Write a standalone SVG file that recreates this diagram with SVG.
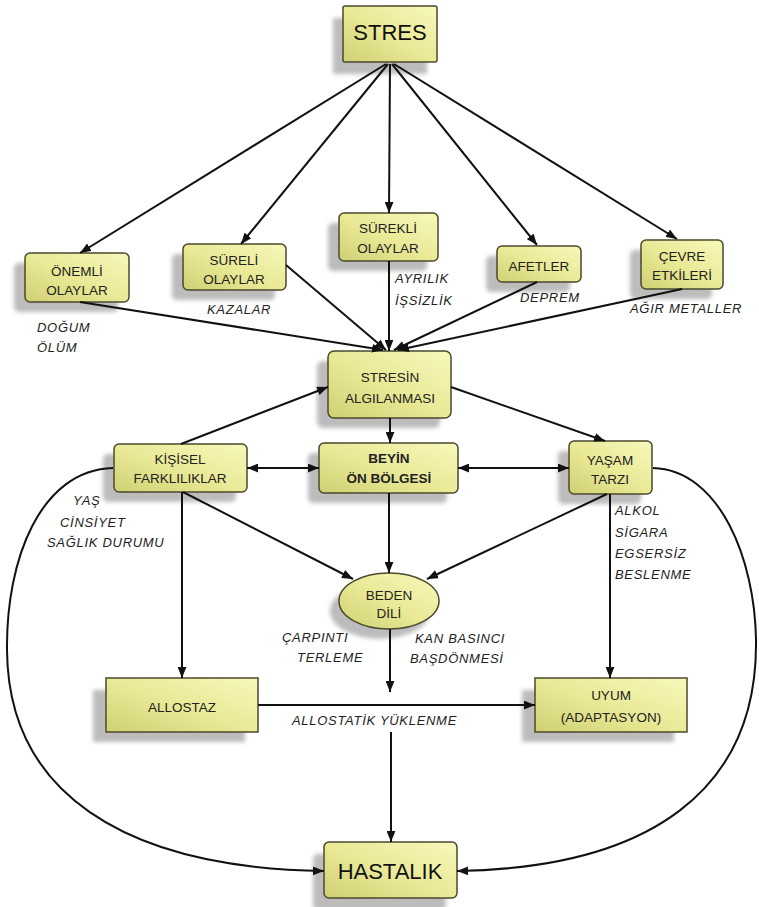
<svg xmlns="http://www.w3.org/2000/svg" width="759" height="907" viewBox="0 0 759 907">
<defs>
<linearGradient id="g" x1="1" y1="0" x2="0" y2="1">
<stop offset="0" stop-color="#f8f8bc"/>
<stop offset="0.55" stop-color="#e8e894"/>
<stop offset="1" stop-color="#cfcf74"/>
</linearGradient>
<filter id="blur" x="-20%" y="-20%" width="140%" height="140%"><feGaussianBlur stdDeviation="2"/></filter>
<marker id="ah" viewBox="0 0 10 8" refX="10" refY="4" markerWidth="11" markerHeight="9" markerUnits="userSpaceOnUse" orient="auto-start-reverse">
<path d="M0,0 L10,4 L0,8 z" fill="#111"/>
</marker>
</defs>
<style>
.box{fill:url(#g);stroke:#4a4a2c;stroke-width:1.5}
.sh{fill:#bcbcbc;filter:url(#blur)}
.t{font-family:"Liberation Sans",Arial,sans-serif;font-size:13.5px;fill:#222;text-anchor:middle}
.b{font-weight:bold}
.big{font-size:22px;fill:#111}
.lab{font-family:"Liberation Sans",Arial,sans-serif;font-size:13px;font-style:italic;fill:#222;letter-spacing:0.7px}
.c{fill:none;stroke:#111;stroke-width:2}
.a{marker-end:url(#ah)}
.d{marker-start:url(#ah);marker-end:url(#ah)}
</style>
<rect width="759" height="907" fill="#fff"/>

<g id="stres">
<rect class="sh" x="333" y="18" width="94" height="56"/>
<rect class="box" x="343" y="6" width="94" height="56" rx="2"/>
<text class="t big" x="390" y="40">STRES</text>
</g>
<g id="onemli">
<rect class="sh" x="14" y="263" width="104" height="49" rx="5"/>
<rect class="box" x="25" y="253" width="104" height="49" rx="5"/>
<text class="t" x="77" y="276">ÖNEMLİ</text>
<text class="t" x="77" y="295">OLAYLAR</text>
</g>
<g id="sureli">
<rect class="sh" x="172" y="254" width="103" height="46" rx="5"/>
<rect class="box" x="183" y="244" width="103" height="46" rx="5"/>
<text class="t" x="234" y="265">SÜRELİ</text>
<text class="t" x="234" y="284">OLAYLAR</text>
</g>
<g id="surekli">
<rect class="sh" x="328" y="223" width="99" height="48" rx="5"/>
<rect class="box" x="339" y="213" width="99" height="48" rx="5"/>
<text class="t" x="388" y="233">SÜREKLİ</text>
<text class="t" x="388" y="253">OLAYLAR</text>
</g>
<g id="afetler">
<rect class="sh" x="486" y="256" width="84" height="36" rx="5"/>
<rect class="box" x="497" y="246" width="84" height="36" rx="5"/>
<text class="t" x="539" y="271">AFETLER</text>
</g>
<g id="cevre">
<rect class="sh" x="630" y="250" width="82" height="49" rx="5"/>
<rect class="box" x="641" y="240" width="82" height="49" rx="5"/>
<text class="t" x="682" y="261">ÇEVRE</text>
<text class="t" x="682" y="280">ETKİLERİ</text>
</g>
<g id="stresin">
<rect class="sh" x="317" y="361" width="123" height="67" rx="6"/>
<rect class="box" x="328" y="351" width="123" height="67" rx="6"/>
<text class="t" x="390" y="382">STRESİN</text>
<text class="t" x="390" y="403">ALGILANMASI</text>
</g>
<g id="kisisel">
<rect class="sh" x="103" y="454" width="133" height="48" rx="5"/>
<rect class="box" x="114" y="444" width="133" height="48" rx="5"/>
<text class="t" x="180" y="464">KİŞİSEL</text>
<text class="t" x="180" y="483">FARKLILIKLAR</text>
</g>
<g id="beyin">
<rect class="sh" x="308" y="453" width="139" height="50" rx="5"/>
<rect class="box" x="319" y="443" width="139" height="50" rx="5"/>
<text class="t b" x="389" y="463">BEYİN</text>
<text class="t b" x="389" y="483">ÖN BÖLGESİ</text>
</g>
<g id="yasam">
<rect class="sh" x="558" y="451" width="83" height="53" rx="5"/>
<rect class="box" x="569" y="441" width="83" height="53" rx="5"/>
<text class="t" x="610" y="465">YAŞAM</text>
<text class="t" x="610" y="484">TARZI</text>
</g>
<g id="beden">
<ellipse class="sh" cx="380" cy="611" rx="50" ry="28"/>
<ellipse class="box" cx="389" cy="601" rx="50" ry="28"/>
<text class="t" x="389" y="600">BEDEN</text>
<text class="t" x="389" y="618">DİLİ</text>
</g>
<g id="allostaz">
<rect class="sh" x="93" y="690" width="152" height="52"/>
<rect class="box" x="106" y="678" width="152" height="54"/>
<text class="t" x="182" y="712">ALLOSTAZ</text>
</g>
<g id="uyum">
<rect class="sh" x="522" y="690" width="152" height="52"/>
<rect class="box" x="535" y="678" width="152" height="54"/>
<text class="t" x="611" y="700">UYUM</text>
<text class="t" x="611" y="722">(ADAPTASYON)</text>
</g>
<g id="hastalik">
<rect class="sh" x="313" y="854" width="133" height="56" rx="5"/>
<rect class="box" x="324" y="842" width="133" height="56" rx="5"/>
<text class="t big" x="390" y="879">HASTALIK</text>
</g>

<g id="connectors">
<line class="c a" x1="386" y1="64" x2="80" y2="253"/>
<line class="c a" x1="388" y1="64" x2="241" y2="244"/>
<line class="c a" x1="390" y1="64" x2="389" y2="213"/>
<line class="c a" x1="392" y1="64" x2="537" y2="245"/>
<line class="c a" x1="394" y1="64" x2="677" y2="239"/>
<line class="c a" x1="80" y1="302" x2="383" y2="350"/>
<line class="c a" x1="286" y1="265" x2="386" y2="350"/>
<line class="c a" x1="389" y1="261" x2="389" y2="351"/>
<line class="c a" x1="537" y1="282" x2="394" y2="350"/>
<line class="c a" x1="682" y1="289" x2="398" y2="350"/>
<line class="c a" x1="181" y1="444" x2="328" y2="387"/>
<line class="c a" x1="451" y1="387" x2="605" y2="441"/>
<line class="c a" x1="390" y1="418" x2="390" y2="443"/>
<line class="c d" x1="247" y1="468" x2="319" y2="468"/>
<line class="c d" x1="458" y1="468" x2="569" y2="468"/>
<line class="c a" x1="183" y1="492" x2="353" y2="579"/>
<line class="c a" x1="389" y1="493" x2="389" y2="573"/>
<line class="c a" x1="607" y1="494" x2="427" y2="579"/>
<line class="c a" x1="182" y1="492" x2="182" y2="678"/>
<line class="c a" x1="610" y1="494" x2="610" y2="678"/>
<line class="c a" x1="390" y1="629" x2="390" y2="692"/>
<line class="c a" x1="258" y1="705" x2="535" y2="705"/>
<line class="c a" x1="391" y1="732" x2="391" y2="842"/>
<path class="c a" d="M113,468 C40,470 6,560 7,650 C8,790 120,868 324,871"/>
<path class="c a" d="M653,468 C720,470 755,560 756,640 C758,790 650,868 457,871"/>
</g>

<g id="labels">
<text class="lab" x="37" y="332">DOĞUM</text>
<text class="lab" x="37" y="352">ÖLÜM</text>
<text class="lab" x="207" y="314">KAZALAR</text>
<text class="lab" x="395" y="283">AYRILIK</text>
<text class="lab" x="395" y="305">İŞSİZLİK</text>
<text class="lab" x="520" y="302">DEPREM</text>
<text class="lab" x="630" y="313">AĞIR METALLER</text>
<text class="lab" x="73" y="505">YAŞ</text>
<text class="lab" x="60" y="527">CİNSİYET</text>
<text class="lab" x="47" y="547">SAĞLIK DURUMU</text>
<text class="lab" x="615" y="515">ALKOL</text>
<text class="lab" x="615" y="537">SİGARA</text>
<text class="lab" x="615" y="558">EGSERSİZ</text>
<text class="lab" x="615" y="579">BESLENME</text>
<text class="lab" x="282" y="642">ÇARPINTI</text>
<text class="lab" x="297" y="662">TERLEME</text>
<text class="lab" x="415" y="643">KAN BASINCI</text>
<text class="lab" x="410" y="663">BAŞDÖNMESİ</text>
<text class="lab" x="292" y="725">ALLOSTATİK YÜKLENME</text>
</g>
</svg>
